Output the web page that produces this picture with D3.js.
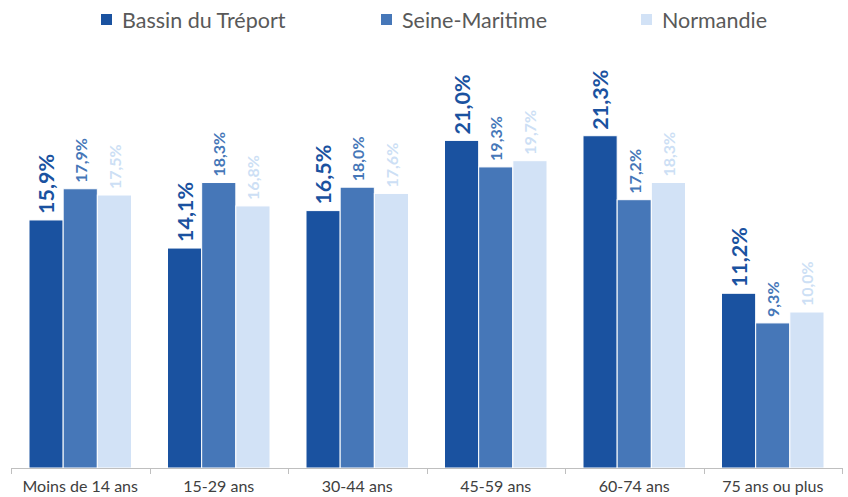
<!DOCTYPE html>
<html>
<head>
<meta charset="utf-8">
<script src="https://cdn.jsdelivr.net/npm/d3@7"></script>
<style>
  body { margin: 0; background: #fff; }
  text { font-family: Lato, "Open Sans", sans-serif; }
</style>
</head>
<body>
<div id="chart"></div>
<script>
const categories = ['Moins de 14 ans', '15-29 ans', '30-44 ans', '45-59 ans', '60-74 ans', '75 ans ou plus'];
const seriesNames = ['Bassin du Tréport', 'Seine-Maritime', 'Normandie'];
const bassin = [15.9, 14.1, 16.5, 21.0, 21.3, 11.2];
const seine = [17.9, 18.3, 18.0, 19.3, 17.2, 9.3];
const normandie = [17.5, 16.8, 17.6, 19.7, 18.3, 10.0];

const COLORS = ['#1a52a0', '#4677b8', '#d2e2f6'];
const LABEL_COLORS = ['#1a52a0', '#4677b8', '#cddff5'];
const LABEL_SIZE = [21.5, 16, 16];
const WIDTH = 848, HEIGHT = 497;

const svg = d3.select('#chart')
  .append('svg')
  .attr('width', WIDTH)
  .attr('height', HEIGHT);

const x0 = d3.scaleBand()
  .domain(categories)
  .range([11, 842])
  .paddingInner(0)
  .paddingOuter(0);

const x1 = d3.scaleBand()
  .domain(d3.range(3))
  .range([18, x0.bandwidth() - 18])
  .padding(0);

const y = d3.scaleLinear()
  .domain([0, 25])
  .range([468, 78]);

const data = categories.map((c, i) => ({
  cat: c,
  vals: [bassin[i], seine[i], normandie[i]]
}));

// bars
const groups = svg.selectAll('g.grp')
  .data(data)
  .enter()
  .append('g')
  .attr('class', 'grp')
  .attr('transform', d => `translate(${x0(d.cat)},0)`);

groups.selectAll('rect')
  .data(d => d.vals.map((v, k) => ({ v, k })))
  .enter()
  .append('rect')
  .attr('x', d => x1(d.k))
  .attr('width', x1.bandwidth())
  .attr('y', d => y(d.v))
  .attr('height', d => y(0) - y(d.v))
  .attr('fill', d => COLORS[d.k])
  .attr('stroke', '#fff')
  .attr('stroke-width', 1);

// value labels
groups.selectAll('text.val')
  .data(d => d.vals.map((v, k) => ({ v, k })))
  .enter()
  .append('text')
  .attr('class', 'val')
  .attr('transform', d => `translate(${x1(d.k) + x1.bandwidth() / 2},${y(d.v) - 6}) rotate(-90)`)
  .attr('text-anchor', 'start')
  .attr('dominant-baseline', 'central')
  .attr('font-weight', 'bold')
  .attr('font-size', d => LABEL_SIZE[d.k])
  .attr('fill', d => LABEL_COLORS[d.k])
  .text(d => d.v.toFixed(1).replace('.', ',') + '%');

// axis
const xAxis = d3.axisBottom(x0).tickSize(6).tickFormat('');
const axisG = svg.append('g')
  .attr('transform', `translate(0,${y(0)})`)
  .call(xAxis);
axisG.select('.domain').attr('stroke', '#bfbfbf').attr('d', `M11,0.5H842`);
axisG.selectAll('.tick').remove();

const bounds = [...categories.map(c => x0(c)), 842];
axisG.selectAll('line.sep')
  .data(bounds)
  .enter()
  .append('line')
  .attr('class', 'sep')
  .attr('x1', d => Math.round(d) + 0.5)
  .attr('x2', d => Math.round(d) + 0.5)
  .attr('y1', 0)
  .attr('y2', 6)
  .attr('stroke', '#bfbfbf');

svg.selectAll('text.cat')
  .data(categories)
  .enter()
  .append('text')
  .attr('class', 'cat')
  .attr('x', d => x0(d) + x0.bandwidth() / 2)
  .attr('y', 492)
  .attr('text-anchor', 'middle')
  .attr('font-size', 16)
  .attr('fill', '#404040')
  .text(d => d);

// legend
const legendX = [101, 381, 641];
const legend = svg.selectAll('g.leg')
  .data(seriesNames)
  .enter()
  .append('g')
  .attr('class', 'leg')
  .attr('transform', (d, i) => `translate(${legendX[i]},0)`);

legend.append('rect')
  .attr('x', 0)
  .attr('y', 14)
  .attr('width', 11)
  .attr('height', 11)
  .attr('fill', (d, i) => COLORS[i]);

legend.append('text')
  .attr('x', 21)
  .attr('y', 28)
  .attr('font-size', 21.5)
  .attr('fill', '#595959')
  .text(d => d);
</script>
</body>
</html>
